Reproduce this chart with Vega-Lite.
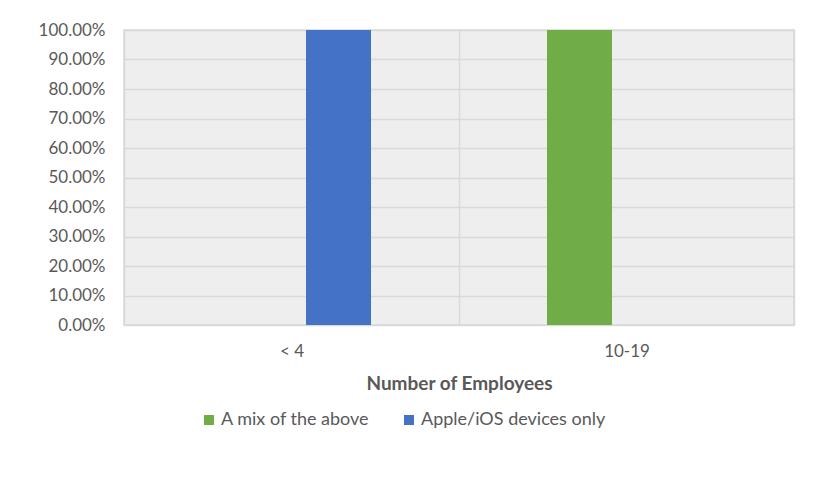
{
  "$schema": "https://vega.github.io/schema/vega-lite/v6.json",
  "width": 670,
  "height": 295,
  "autosize": "none",
  "padding": {"left": 124, "top": 30, "right": 31, "bottom": 155},
  "background": "white",
  "data": {
    "values": [
      {"employees": "< 4", "device": "A mix of the above", "share": 0},
      {"employees": "< 4", "device": "Apple/iOS devices only", "share": 1},
      {"employees": "10-19", "device": "A mix of the above", "share": 1},
      {"employees": "10-19", "device": "Apple/iOS devices only", "share": 0}
    ]
  },
  "mark": {"type": "bar"},
  "encoding": {
    "x": {
      "field": "employees",
      "type": "nominal",
      "sort": ["< 4", "10-19"],
      "scale": {"paddingInner": 0, "paddingOuter": 0},
      "axis": {
        "title": "Number of Employees",
        "labelAngle": 0,
        "ticks": false,
        "domain": false,
        "grid": true,
        "tickBand": "extent",
        "gridColor": "#d9d9d9",
        "gridWidth": 1.5,
        "labelPadding": 18,
        "titlePadding": 15,
        "titleFontSize": 19,
        "titleFontWeight": "bold",
        "titleColor": "#595959",
        "titleFont": "Lato"
      }
    },
    "xOffset": {
      "field": "device",
      "type": "nominal",
      "sort": ["A mix of the above", "Apple/iOS devices only"],
      "scale": {"paddingInner": 0.3085, "paddingOuter": 0.936}
    },
    "y": {
      "field": "share",
      "type": "quantitative",
      "scale": {"domain": [0, 1], "nice": false},
      "axis": {
        "title": null,
        "format": ".2%",
        "values": [0, 0.1, 0.2, 0.3, 0.4, 0.5, 0.6, 0.7, 0.8, 0.9, 1],
        "ticks": false,
        "domain": false,
        "grid": true,
        "gridColor": "#d9d9d9",
        "gridWidth": 1.5,
        "labelPadding": 19
      }
    },
    "color": {
      "field": "device",
      "type": "nominal",
      "scale": {
        "domain": ["A mix of the above", "Apple/iOS devices only"],
        "range": ["#70ad47", "#4472c4"]
      },
      "legend": {
        "title": null,
        "orient": "none",
        "direction": "horizontal",
        "legendX": 76,
        "legendY": 381,
        "symbolType": "square",
        "symbolSize": 100,
        "symbolStrokeWidth": 0,
        "labelOffset": 3,
        "labelLimit": 0,
        "columnPadding": 30,
        "labelFontSize": 18
      }
    }
  },
  "config": {
    "view": {"fill": "#eeeeee", "stroke": "#d9d9d9", "strokeWidth": 1.5},
    "font": "Lato",
    "axis": {
      "labelFont": "Lato",
      "labelFontSize": 17,
      "labelColor": "#595959"
    },
    "legend": {
      "labelFont": "Lato",
      "labelColor": "#595959",
      "symbolOpacity": 1
    }
  }
}
